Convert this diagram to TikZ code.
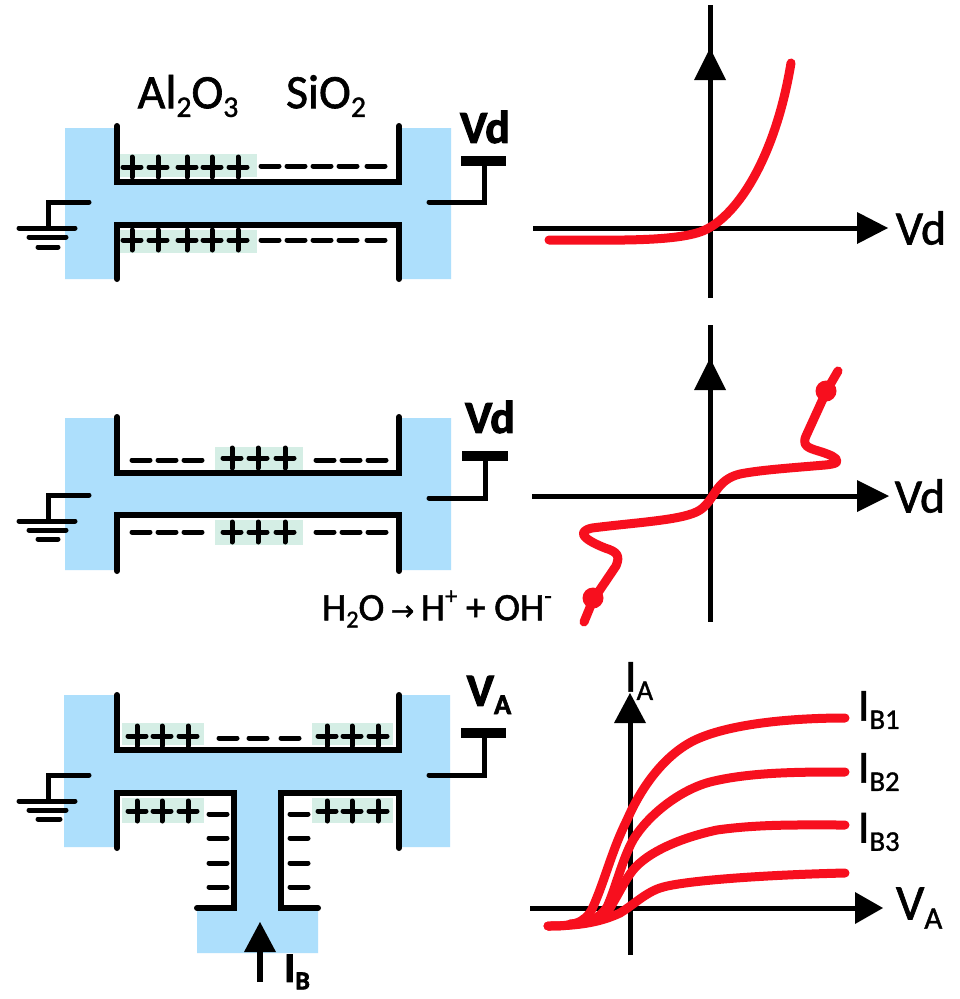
\documentclass[tikz,border=0pt]{standalone}
\usepackage{fontspec}
\setmainfont{Carlito}
\newfontfamily\semi[FakeBold=1.3]{Carlito}
\newfontfamily\heavy[BoldFont=*,FakeBold=2.2]{Carlito Bold}
\newfontfamily\symf[FakeBold=1.5]{DejaVu Sans}
\usetikzlibrary{arrows.meta}
\definecolor{chanblue}{HTML}{ADDFFC}
\definecolor{chargegreen}{HTML}{D5EEE5}
\definecolor{curvered}{HTML}{F70F1E}
\newcommand{\fs}[1]{\fontsize{#1}{#1}\selectfont}
\newcommand{\sbs}[2][0.62]{\raisebox{-0.18em}{\scalebox{#1}{#2}}}
\newcommand{\sps}[1]{\raisebox{0.42em}{\scalebox{0.62}{#1}}}
\newcommand{\plusat}[2]{\draw[chg] (#1-9,#2) -- (#1+9,#2) (#1,#2-10) -- (#1,#2+10);}
\newcommand{\minusat}[3][10]{\draw[chg] (#2-#1,#3) -- (#2+#1,#3);}
\tikzset{
  x=1pt,y=-1pt,
  wall/.style={black,line width=6pt,line cap=round,line join=miter},
  wire/.style={black,line width=5pt,line cap=round,line join=miter},
  bar/.style={black,line width=10pt},
  chg/.style={black,line width=5pt,line cap=round},
  axisl/.style={black,line width=5pt},
  head/.style={black,fill=black,line width=1pt,line join=round},
  curve/.style={curvered,line width=9pt,line cap=round,line join=round},
  txt/.style={inner sep=0pt,outer sep=0pt,text=black},
}
\begin{document}
\begin{tikzpicture}
\useasboundingbox (0,0) rectangle (959,999);
\fill[white] (0,0) rectangle (959,999);
% ---------- panel 1
\fill[chanblue] (65,128) -- (117,128) -- (117,182) -- (399,182) -- (399,128) -- (451,128) -- (451,279) -- (399,279) -- (399,225) -- (117,225) -- (117,279) -- (65,279) -- cycle;
\fill[chargegreen] (120,154) rectangle (257,177);
\fill[chargegreen] (120,230) rectangle (257,253);
\draw[wall] (117,126) -- (117,182) -- (399,182) -- (399,126);
\draw[wall] (117,279) -- (117,225) -- (399,225) -- (399,279);
\foreach \px in {132,158,187,212,238}{\plusat{\px}{167}\plusat{\px}{240}}
\foreach \mx in {270,296,322,348,376}{\minusat[9]{\mx}{166}\minusat[9]{\mx}{240}}
\draw[wire] (89,202) -- (48,202) -- (48,228);
\draw[wire] (19,228) -- (75,228) (29,237) -- (66,237);
\draw[wire] (38,247) -- (58,247);
\draw[wire] (429,202) -- (484,202) -- (484,161);
\draw[bar] (461,161) -- (506,161);
\node[txt,font=\fs{48}\semi] (alox) at (188,96) {Al\sbs{2}O\sbs{3}};
\node[txt,font=\fs{48}\semi] (siox) at (326,96) {SiO\sbs{2}};
\node[txt,font=\fs{46}\heavy] (vdA) at (485,127) {Vd};
% axes 1
\draw[axisl] (533,228) -- (860,228);
\draw[axisl] (710,5) -- (710,298);
\fill[head] (888,228) -- (857,212) -- (857,244) -- cycle;
\fill[head] (710,48) -- (694,80) -- (726,80) -- cycle;
\draw[curve] (549,240) .. controls (610,240) and (670,242) .. (700,232) .. controls (735,220) and (775,160) .. (791,63);
\node[txt,font=\fs{48}\semi] (vdB) at (921,228) {Vd};
% ---------- panel 2
\fill[chanblue] (65,418) -- (117,418) -- (117,473) -- (399,473) -- (399,418) -- (451,418) -- (451,570) -- (399,570) -- (399,515) -- (117,515) -- (117,570) -- (65,570) -- cycle;
\fill[chargegreen] (215,447) rectangle (303,470);
\fill[chargegreen] (215,520) rectangle (303,545);
\draw[wall] (117,417) -- (117,473) -- (399,473) -- (399,417);
\draw[wall] (117,571) -- (117,515) -- (399,515) -- (399,571);
\foreach \px in {232,258,285}{\plusat{\px}{458}\plusat{\px}{532}}
\foreach \mx in {141,167,193,325,351,377}{\minusat[9]{\mx}{460}\minusat[9]{\mx}{532}}
\draw[wire] (89,495) -- (48,495) -- (48,521);
\draw[wire] (19,521) -- (75,521) (29,530) -- (66,530);
\draw[wire] (38,539) -- (58,539);
\draw[wire] (429,498) -- (485,498) -- (485,456);
\draw[bar] (462,456) -- (508,456);
\node[txt,font=\fs{46}\heavy] (vdC) at (490,417) {Vd};
% axes 2
\draw[axisl] (532,496) -- (860,496);
\draw[axisl] (710,325) -- (710,622);
\fill[head] (889,496) -- (857,480) -- (857,512) -- cycle;
\fill[head] (710,358) -- (694,390) -- (726,390) -- cycle;
\draw[curve] (838,371) -- (827,390) -- (806,436) .. controls (800,450) and (815,448) .. (832,456) .. controls (842,462) and (836,464) .. (825,465) .. controls (790,468) and (760,470) .. (740,474) .. controls (715,480) and (715,500) .. (700,510) .. controls (685,520) and (640,522) .. (592,528) .. controls (575,532) and (585,540) .. (605,548) .. controls (618,552) and (620,556) .. (616,566) -- (593,600) -- (584,622);
\fill[curvered] (826,391) circle (10.5);
\fill[curvered] (593,598) circle (10.5);
\node[txt,font=\fs{48}\semi] (vdD) at (920,496) {Vd};
\node[txt,font=\fs{39}\semi,anchor=west] (water) at (322,609) {H\sbs{2}O\,{\symf\fs{28}→}\,H\sps{+} + OH\sps{-}};
% ---------- panel 3
\fill[chanblue] (64,695) -- (117,695) -- (117,750) -- (399,750) -- (399,695) -- (450,695) -- (450,847) -- (399,847) -- (399,793) -- (281,793) -- (281,908) -- (318,908) -- (318,953) -- (197,953) -- (197,908) -- (234,908) -- (234,793) -- (117,793) -- (117,847) -- (64,847) -- cycle;
\fill[chargegreen] (122,723) rectangle (204,745);
\fill[chargegreen] (312,723) rectangle (393,745);
\fill[chargegreen] (122,798) rectangle (204,823);
\fill[chargegreen] (312,798) rectangle (393,823);
\draw[wall] (117,695) -- (117,750) -- (399,750) -- (399,695);
\draw[wall] (117,848) -- (117,793) -- (234,793) -- (234,908) -- (197,908);
\draw[wall] (399,848) -- (399,793) -- (281,793) -- (281,908) -- (318,908);
\foreach \px in {137,162,188,327,352,378}{\plusat{\px}{736}\plusat{\px}{811}}
\foreach \mx in {228,258,290}{\minusat[9]{\mx}{738}}
\foreach \my in {814,838,863,887}{\minusat[9]{218}{\my}\minusat[9]{299}{\my}}
\draw[wire] (89,775) -- (48,775) -- (48,801);
\draw[wire] (19,801) -- (75,801) (29,810) -- (66,810);
\draw[wire] (38,819) -- (60,819);
\draw[wire] (429,775) -- (484,775) -- (484,733);
\draw[bar] (461,733) -- (506,733);
\node[txt,font=\fs{46}\heavy] (va) at (489,695) {V\sbs{A}};
\draw[black,line width=6pt] (260,982) -- (260,945);
\fill[head] (260,922) -- (244,952) -- (276,952) -- cycle;
\node[txt,font=\fs{42}\heavy] (ib) at (297,972) {I\sbs{B}};
% axes 3
\draw[axisl] (530,908) -- (860,908);
\draw[axisl] (630,715) -- (630,955);
\fill[head] (883,908) -- (855,892) -- (855,924) -- cycle;
\fill[head] (630,693) -- (614,723) -- (646,723) -- cycle;
\begin{scope}[curve]
\draw (548,926) .. controls (570,926) and (585,925) .. (593,907) .. controls (605,880) and (612,850) .. (627,820) .. controls (640,790) and (662,757) .. (693,741) .. controls (727,724) and (790,718) .. (845,718);
\draw (570,924) .. controls (590,922) and (598,920) .. (607,907) .. controls (615,890) and (622,860) .. (633,840) .. controls (648,815) and (680,790) .. (710,782) .. controls (750,772) and (800,772) .. (845,772);
\draw (575,924) .. controls (590,923) and (600,920) .. (610,908) .. controls (618,895) and (625,880) .. (633,870) .. controls (648,852) and (680,838) .. (717,830) .. controls (760,824) and (800,825) .. (845,825);
\draw (548,926) .. controls (585,926) and (605,920) .. (620,913) .. controls (632,906) and (645,893) .. (660,888) .. controls (680,881) and (760,875) .. (845,873);
\end{scope}
\node[txt,font=\fs{46}\semi,anchor=west] (ia) at (625,681) {I\sbs{A}};
\node[txt,font=\fs{46}\semi,anchor=west] (ib1) at (858,710) {I\sbs{B1}};
\node[txt,font=\fs{46}\semi,anchor=west] (ib2) at (858,772) {I\sbs{B2}};
\node[txt,font=\fs{46}\semi,anchor=west] (ib3) at (858,832) {I\sbs{B3}};
\node[txt,font=\fs{50}\semi,anchor=west] (vb) at (896,908) {V\sbs{A}};
\end{tikzpicture}
\end{document}
